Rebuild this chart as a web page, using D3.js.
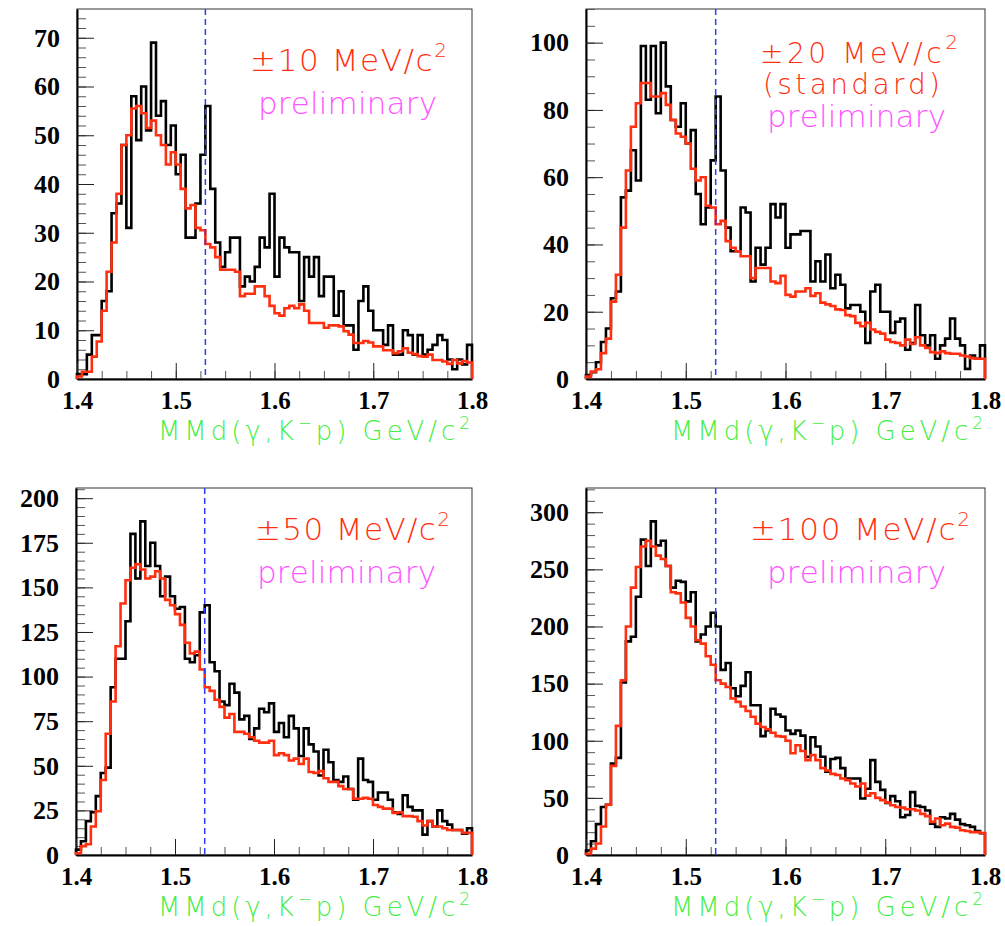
<!DOCTYPE html>
<html>
<head>
<meta charset="utf-8">
<script src="https://cdn.jsdelivr.net/npm/d3@7"></script>
<style>
  body { margin: 0; background: #fff; }
  svg text { font-kerning: none; }
</style>
</head>
<body>
<script>
// histogram range: 80 bins of 5 MeV from 1.4 to 1.8 GeV/c^2
var xMin = 1.4, xMax = 1.8, nBins = 80;
var cutMass = 1.53;
var xTickValues = [1.4, 1.5, 1.6, 1.7, 1.8];

// +-10 MeV/c^2 window: data (black) and background (red)
var data10 = [1, 1, 5, 9, 9, 16, 18, 34, 36, 48, 31, 58, 49, 60, 51, 69, 54, 57, 48, 52, 42, 46, 29, 29, 36, 46, 56,
  39, 28, 23, 26, 29, 29, 19, 21, 20, 23, 29, 27, 38, 21, 29, 27, 26, 26, 16, 25, 21, 25, 17, 21, 21, 13,
  18, 11, 11, 6, 16, 19, 14, 10, 10, 7, 11, 5, 5, 10, 9, 5, 9, 5, 6, 7, 9, 8, 4, 2, 4, 3, 7];
var bkg10 = [0.5, 1.5, 1.5, 4.6, 7.7, 14, 22, 28, 38, 48, 50, 55.5, 56, 54.5, 51.5, 53, 50, 48, 44, 46.5, 44, 39, 35, 35.7, 31, 30.5, 27.7,
  27, 25, 22.4, 22.4, 22.4, 22, 17, 17.5, 17.5, 19, 19, 17, 15, 13.5, 13, 14.5, 15, 14.5, 15.3, 14, 11.5, 11.5, 11.5, 10.5, 11, 11,
  10.8, 9.8, 9.1, 7.4, 7.4, 7.8, 7.5, 6.7, 6.7, 5.9, 5.9, 5.3, 5.7, 6.3, 5.4, 5.1, 4.7, 4.6, 5, 3.9, 3.9, 3.6, 3.1, 3.9, 3.2, 3.7, 3.4];

// +-20 MeV/c^2 (standard)
var data20 = [1.2, 2, 5, 11, 15, 24, 26, 54, 56, 68, 59, 99, 83, 99, 79, 100, 87, 77, 75, 82, 70, 74, 55, 46, 51, 65, 84,
  62, 45, 38, 38, 51, 49.5, 29, 39, 34, 39, 52, 48, 52, 39, 43, 43, 44, 44, 29, 35, 29, 37, 27, 31, 28, 21,
  22, 22, 20, 10.7, 26, 28, 20, 20, 13.7, 17, 18, 8.7, 10.7, 22, 13, 10, 13, 6, 10, 12, 18, 12, 10, 3, 7, 6, 10];
var bkg20 = [0.7, 2.2, 2.9, 7.7, 12, 23, 31, 45, 62, 75, 82, 88, 88, 84, 84, 85, 81.5, 77, 73, 72, 70, 62.5, 59, 60, 51.5, 51, 46,
  47, 41, 39, 38, 36.5, 36.5, 30, 33, 33, 33, 29, 28.5, 30.7, 25, 24.5, 26, 26, 27, 24.7, 25.5, 22.7, 22.2, 21.7, 20.7, 20.5, 19,
  18.7, 16.7, 15.7, 16.7, 14.7, 14, 13.5, 11.7, 11, 10.7, 10, 11.7, 10.4, 12.4, 10, 9.2, 8, 7.7, 8.2, 7.7, 7.5, 7.5, 7, 6.7, 6.2, 6, 6];

// +-50 MeV/c^2
var data50 = [3, 7.7, 19, 24, 33, 46, 49, 94, 110, 110, 131, 180, 155, 187, 162, 175, 162, 145, 156, 145, 138, 139, 110, 108, 112, 136, 140,
  108, 103, 86, 84, 96, 91, 76, 78, 65, 71, 82, 80,
  85, 69, 74, 66, 78, 71, 55.5, 71, 62, 58, 44.6, 59, 52, 42, 41, 44, 37, 31, 54, 42, 41, 31, 35, 35, 31, 24, 23, 33.5, 27, 25,
  25, 11.4, 19, 16, 25, 19, 17, 14, 14, 12, 15];
var bkg50 = [1, 5, 6, 16, 24.5, 42, 68, 86, 117, 141, 154, 161, 163, 160, 155, 156, 159, 155, 143, 140, 135, 129, 119, 113, 114, 104, 94,
  92, 87, 83, 77, 79, 69, 69, 68, 66, 64, 63, 63,
  64, 56, 57, 56, 53, 54, 51, 54, 46.5, 46, 47, 43, 41, 41, 38.6, 37, 37, 31.5, 31.5, 32, 31.5, 28, 27, 26, 26, 23.6, 24, 21.8, 21.8,
  21.4, 19, 16.5, 19, 16, 16, 15, 14, 14, 14, 12.4, 12.4];

// +-100 MeV/c^2
var data100 = [4, 12, 27, 42, 44, 80, 85, 151, 187, 191, 226, 276, 253, 292, 271, 275, 253, 234, 240, 239, 222, 230, 187, 193, 200, 212, 200,
  162, 168, 146, 139, 148, 160, 131, 131, 104, 109, 128, 123,
  121, 109, 106, 109, 104.5, 86, 103, 95, 86, 73, 84, 85, 76, 67, 67, 67, 49.5, 58, 83, 64, 57, 45.6, 51.5, 47, 33, 35, 55, 43, 42,
  39, 27.5, 24.6, 33, 32, 36, 31, 27, 26, 24.6, 21, 19];
var bkg100 = [1, 5.6, 10, 25, 44, 78, 113, 153, 200, 234, 252, 270, 275, 270, 262, 259, 253, 230, 229, 221, 207.5, 200, 188, 185, 174, 166.5, 153,
  150, 147, 137, 134, 130, 126, 121, 115, 112, 110, 107, 104,
  103.6, 100, 89, 96, 91, 83, 87.5, 83, 76, 74, 71, 70, 67, 65.5, 62.6, 60, 62.6, 52, 54, 50, 48, 46, 43.6, 42, 41.5, 40, 40, 39, 36,
  34, 29, 32, 26, 27.5, 24.6, 24, 21.7, 21, 20, 20, 19.3];

var windowLabels = ["\u00b110", "\u00b120", "\u00b150", "\u00b1100"];
var yMajorSteps = [10, 20, 25, 50];
var yMinorSteps = [2, 5, 5, 10];

// frame of each pad on the page
var frames = [
  {x: 77, y: 9, w: 395, h: 370},
  {x: 586, y: 9, w: 399, h: 370},
  {x: 76, y: 488, w: 396, h: 367},
  {x: 586, y: 488, w: 399, h: 367}
];

var panels = [
  {data: data10, bkg: bkg10, label: windowLabels[0], lines: [], labelLen: 197, labelX: 173, labelY: 62, prelimY: 105, fs: 31},
  {data: data20, bkg: bkg20, label: windowLabels[1], lines: ["(standard)"], labelLen: 198, labelX: 174, labelY: 54, prelimY: 118, fs: 28},
  {data: data50, bkg: bkg50, label: windowLabels[2], lines: [], labelLen: 195, labelX: 179, labelY: 540 - 488, prelimY: 583 - 488, fs: 31},
  {data: data100, bkg: bkg100, label: windowLabels[3], lines: [], labelLen: 220, labelX: 164, labelY: 540 - 488, prelimY: 583 - 488, fs: 31}
];

var svg = d3.select("body").append("svg")
    .attr("width", 1005)
    .attr("height", 926);

var red = "#ff2f10", magenta = "#ff55ff", green = "#44ee44";
var thinFont = "'DejaVu Sans', sans-serif";

function stepPoints(values) {
  var binW = (xMax - xMin) / nBins;
  var pts = [[xMin, 0]];
  values.forEach(function(v, i) { pts.push([xMin + i * binW, v]); });
  pts.push([xMax, values[values.length - 1]]);
  pts.push([xMax, 0]);
  return pts;
}

panels.forEach(function(p, idx) {
  var f = frames[idx];
  var g = svg.append("g").attr("transform", "translate(" + f.x + "," + f.y + ")");

  var yMax = d3.max(p.data) * 1.1;
  var x = d3.scaleLinear().domain([xMin, xMax]).range([0, f.w]);
  var y = d3.scaleLinear().domain([0, yMax]).range([f.h, 0]);

  var line = d3.line()
      .x(function(d) { return x(d[0]); })
      .y(function(d) { return y(d[1]); })
      .curve(d3.curveStepAfter);

  // frame
  g.append("rect")
      .attr("width", f.w).attr("height", f.h)
      .attr("fill", "none").attr("stroke", "#333").attr("stroke-width", 1);

  // y axis major / minor ticks, pointing inside
  var majors = d3.range(0, yMax + 1e-9, yMajorSteps[idx]);
  var minors = d3.range(0, yMax + 1e-9, yMinorSteps[idx]);
  g.append("g")
      .call(d3.axisLeft(y).tickValues(minors).tickSize(-9).tickSizeOuter(0).tickFormat(""))
      .call(function(a) { a.select(".domain").remove(); a.selectAll("line").attr("stroke", "#555"); });
  g.append("g")
      .attr("class", "y axis")
      .call(d3.axisLeft(y).tickValues(majors).tickSize(-17).tickSizeOuter(0).tickPadding(17).tickFormat(d3.format("d")))
      .call(function(a) {
        a.select(".domain").attr("stroke-width", 2);
        a.selectAll("line").attr("stroke", "#222");
        a.selectAll("text")
            .attr("font-family", "'Liberation Serif', serif")
            .attr("font-weight", "bold")
            .attr("font-size", 26)
            .attr("fill", "#000");
      });

  // x axis
  var xMinors = d3.range(xMin, xMax + 1e-9, 0.025);
  g.append("g")
      .attr("transform", "translate(0," + f.h + ")")
      .call(d3.axisBottom(x).tickValues(xMinors).tickSize(-8).tickSizeOuter(0).tickFormat(""))
      .call(function(a) { a.select(".domain").remove(); a.selectAll("line").attr("stroke", "#555"); });
  g.append("g")
      .attr("class", "x axis")
      .attr("transform", "translate(0," + f.h + ")")
      .call(d3.axisBottom(x).tickValues(xTickValues).tickSize(-16).tickSizeOuter(0).tickPadding(12).tickFormat(d3.format(".1f")))
      .call(function(a) {
        a.select(".domain").attr("stroke-width", 2);
        a.selectAll("line").attr("stroke", "#222");
        a.selectAll("text")
            .attr("font-family", "'Liberation Serif', serif")
            .attr("font-weight", "bold")
            .attr("font-size", 25)
            .attr("fill", "#000");
      });

  // data and background histograms
  g.append("path")
      .datum(stepPoints(p.data))
      .attr("d", line)
      .attr("fill", "none").attr("stroke", "#000").attr("stroke-width", 2.6);
  g.append("path")
      .datum(stepPoints(p.bkg))
      .attr("d", line)
      .attr("fill", "none").attr("stroke", red).attr("stroke-width", 2.6);

  // 1.53 GeV marker
  g.append("line")
      .attr("x1", x(cutMass)).attr("x2", x(cutMass))
      .attr("y1", 0).attr("y2", f.h)
      .attr("stroke", "#2b3cff").attr("stroke-width", 1.5).attr("stroke-dasharray", "6,4");

  // window label
  var t = g.append("text")
      .attr("x", p.labelX).attr("y", p.labelY)
      .attr("font-family", thinFont).attr("font-weight", 200)
      .attr("font-size", p.fs).attr("fill", red)
      .attr("textLength", p.labelLen).attr("lengthAdjust", "spacing");
  t.append("tspan").text(p.label + " MeV/c");
  t.append("tspan").attr("font-size", 20).attr("dy", -14).text("2");

  p.lines.forEach(function(s) {
    g.append("text")
        .attr("x", 177).attr("y", 85)
        .attr("font-family", thinFont).attr("font-weight", 200)
        .attr("font-size", p.fs).attr("fill", red)
        .attr("textLength", 177).attr("lengthAdjust", "spacing")
        .text(s);
  });

  g.append("text")
      .attr("x", 181).attr("y", p.prelimY)
      .attr("font-family", thinFont).attr("font-weight", 200)
      .attr("font-size", 31).attr("fill", magenta)
      .attr("textLength", 179).attr("lengthAdjust", "spacing")
      .text("preliminary");

  // x axis title
  var xt = g.append("text")
      .attr("x", f.w - 314).attr("y", f.h + 61)
      .attr("font-family", thinFont).attr("font-weight", 200)
      .attr("font-size", 26).attr("fill", green)
      .attr("textLength", 312).attr("lengthAdjust", "spacing");
  xt.append("tspan").text("MMd(\u03b3,K");
  xt.append("tspan").attr("font-size", 17).attr("dy", -11).text("\u2212");
  xt.append("tspan").attr("dy", 11).text("p) GeV/c");
  xt.append("tspan").attr("font-size", 17).attr("dy", -11).text("2");
});
</script>
</body>
</html>
